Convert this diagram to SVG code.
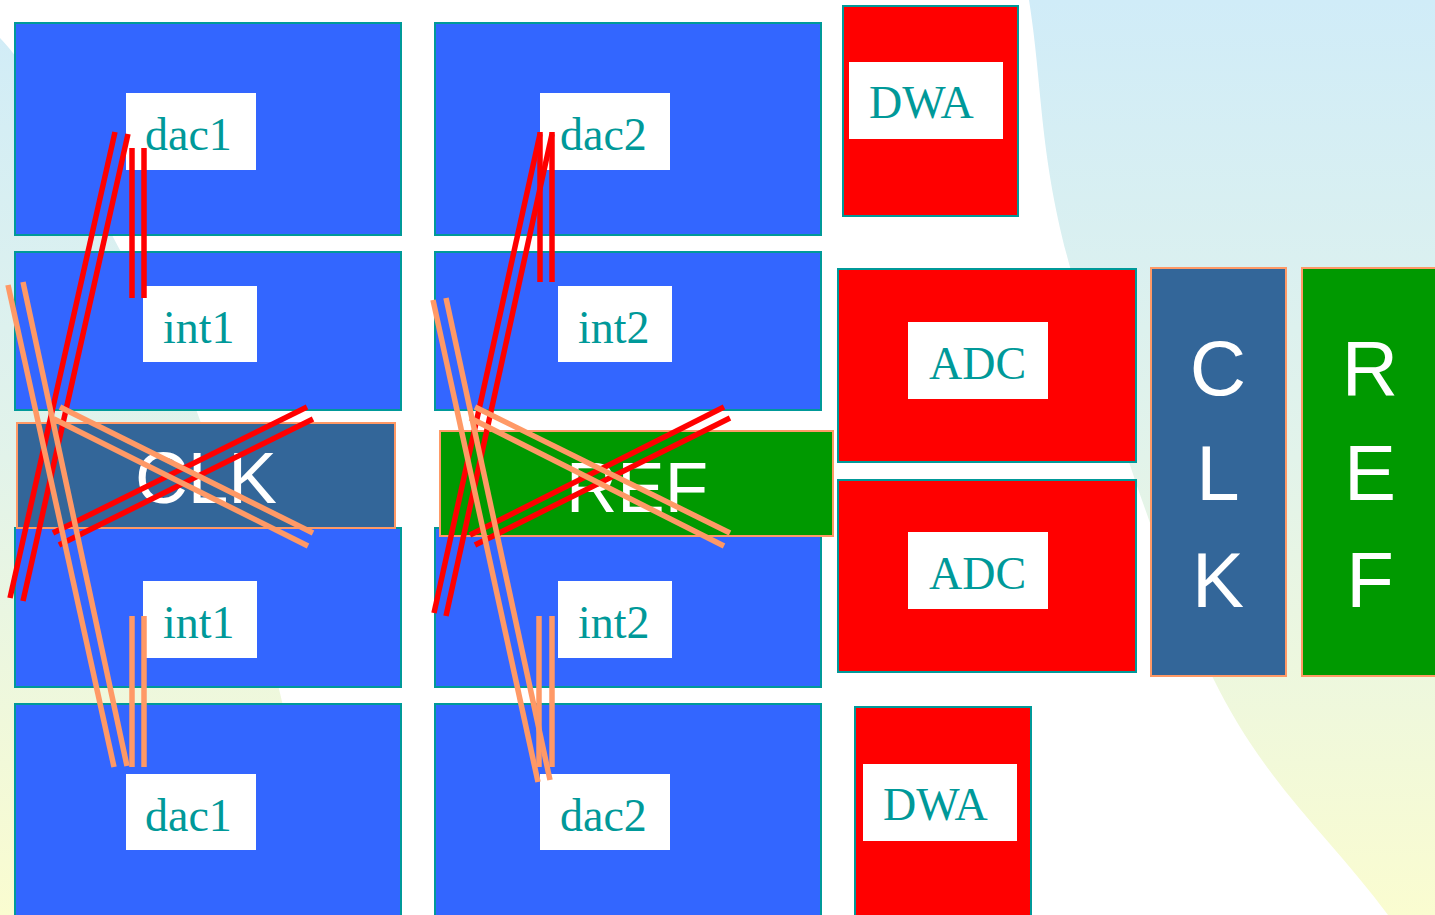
<svg xmlns="http://www.w3.org/2000/svg" width="1435" height="915" viewBox="0 0 1435 915">
  <defs>
    <linearGradient id="bgGrad" x1="0" y1="0" x2="0" y2="1">
      <stop offset="0" stop-color="#D0ECF8"/>
      <stop offset="0.5" stop-color="#E2F3EA"/>
      <stop offset="1" stop-color="#FAFCD0"/>
    </linearGradient>
  </defs>
  <style>
    .blk { fill: #3366FF; stroke: #009999; stroke-width: 2; }
    .red { fill: #FF0000; stroke: #009999; stroke-width: 2; }
    .clk { fill: #336699; stroke: #FF9966; stroke-width: 2; }
    .ref { fill: #009900; stroke: #FF9966; stroke-width: 2; }
    .tag { fill: #FFFFFF; }
    .lbl { font-family: "Liberation Serif", "Times New Roman", serif; font-size: 46px; fill: #009999; }
    .big { font-family: "Liberation Sans", Arial, sans-serif; fill: #FFFFFF; text-anchor: middle; }
    .wr { fill: none; stroke: #FF0000; stroke-width: 5.5; }
    .wo { fill: none; stroke: #FF9966; stroke-width: 5.5; }
  </style>

  <!-- background: soft gradient with a white sweep through the middle -->
  <rect x="0" y="0" width="1435" height="915" fill="url(#bgGrad)"/>
  <path fill="#FFFFFF" d="M0,38 C40,78 80,175 113,237 C146,299 169,336 197,412 C225,488 260,609 280,693 C300,777 305,841 318,915 L1388,915 C1330,836 1266,786 1213,678 C1160,570 1101,380 1070,267 C1039,154 1043,89 1029,0 L0,0 Z"/>

  <!-- left column -->
  <g id="dac1-top">
    <rect class="blk" x="15" y="23" width="386" height="212"/>
    <rect class="tag" x="126" y="93" width="130" height="77"/>
    <text class="lbl" x="145" y="150">dac1</text>
  </g>
  <g id="int1-top">
    <rect class="blk" x="15" y="252" width="386" height="158"/>
    <rect class="tag" x="143" y="286" width="114" height="76"/>
    <text class="lbl" x="163" y="343">int1</text>
  </g>
  <g id="int1-bottom">
    <rect class="blk" x="15" y="528" width="386" height="159"/>
    <rect class="tag" x="143" y="581" width="114" height="77"/>
    <text class="lbl" x="163" y="638">int1</text>
  </g>
  <g id="dac1-bottom">
    <rect class="blk" x="15" y="704" width="386" height="220"/>
    <rect class="tag" x="126" y="774" width="130" height="76"/>
    <text class="lbl" x="145" y="831">dac1</text>
  </g>
  <g id="clk-bar">
    <rect class="clk" x="17" y="423" width="378" height="105"/>
    <text class="big" x="206" y="503" font-size="73">CLK</text>
  </g>

  <!-- middle column -->
  <g id="dac2-top">
    <rect class="blk" x="435" y="23" width="386" height="212"/>
    <rect class="tag" x="540" y="93" width="130" height="77"/>
    <text class="lbl" x="560" y="150">dac2</text>
  </g>
  <g id="int2-top">
    <rect class="blk" x="435" y="252" width="386" height="158"/>
    <rect class="tag" x="558" y="286" width="114" height="76"/>
    <text class="lbl" x="578" y="343">int2</text>
  </g>
  <g id="int2-bottom">
    <rect class="blk" x="435" y="528" width="386" height="159"/>
    <rect class="tag" x="558" y="581" width="114" height="77"/>
    <text class="lbl" x="578" y="638">int2</text>
  </g>
  <g id="dac2-bottom">
    <rect class="blk" x="435" y="704" width="386" height="220"/>
    <rect class="tag" x="540" y="774" width="130" height="76"/>
    <text class="lbl" x="560" y="831">dac2</text>
  </g>
  <g id="ref-bar">
    <rect class="ref" x="440" y="431" width="393" height="105"/>
    <text class="big" x="637" y="512" font-size="71">REF</text>
  </g>

  <!-- right side blocks -->
  <g id="dwa-top">
    <rect class="red" x="843" y="6" width="175" height="210"/>
    <rect class="tag" x="849" y="62" width="154" height="77"/>
    <text class="lbl" x="869" y="118">DWA</text>
  </g>
  <g id="adc-top">
    <rect class="red" x="838" y="269" width="298" height="193"/>
    <rect class="tag" x="908" y="322" width="140" height="77"/>
    <text class="lbl" x="929" y="379">ADC</text>
  </g>
  <g id="adc-bottom">
    <rect class="red" x="838" y="480" width="298" height="192"/>
    <rect class="tag" x="908" y="532" width="140" height="77"/>
    <text class="lbl" x="929" y="589">ADC</text>
  </g>
  <g id="dwa-bottom">
    <rect class="red" x="855" y="707" width="176" height="220"/>
    <rect class="tag" x="863" y="764" width="154" height="77"/>
    <text class="lbl" x="883" y="820">DWA</text>
  </g>
  <g id="clk-column">
    <rect class="clk" x="1151" y="268" width="135" height="408"/>
    <text class="big" x="1218" y="395" font-size="78">C</text>
    <text class="big" x="1218" y="500" font-size="78">L</text>
    <text class="big" x="1218" y="607" font-size="78">K</text>
  </g>
  <g id="ref-column">
    <rect class="ref" x="1302" y="268" width="140" height="408"/>
    <text class="big" x="1370" y="395" font-size="78">R</text>
    <text class="big" x="1370" y="500" font-size="78">E</text>
    <text class="big" x="1370" y="607" font-size="78">F</text>
  </g>

  <!-- wiring -->
  <g id="connectors">
    <!-- left group: red pairs -->
    <line class="wr" x1="115" y1="132" x2="10" y2="598"/>
    <line class="wr" x1="128" y1="134" x2="23" y2="601"/>
    <line class="wr" x1="132" y1="148" x2="132" y2="298"/>
    <line class="wr" x1="144" y1="148" x2="144" y2="298"/>
    <line class="wr" x1="53" y1="533" x2="307" y2="407"/>
    <line class="wr" x1="59" y1="545" x2="313" y2="419"/>
    <!-- left group: orange pairs -->
    <line class="wo" x1="60" y1="407" x2="313" y2="533"/>
    <line class="wo" x1="54" y1="419" x2="308" y2="546"/>
    <line class="wo" x1="8" y1="285" x2="114" y2="767"/>
    <line class="wo" x1="23" y1="282" x2="127" y2="766"/>
    <line class="wo" x1="132" y1="616" x2="132" y2="767"/>
    <line class="wo" x1="144" y1="616" x2="144" y2="767"/>

    <!-- middle group: red pairs -->
    <line class="wr" x1="540" y1="134" x2="434" y2="613"/>
    <line class="wr" x1="552" y1="134" x2="446" y2="616"/>
    <line class="wr" x1="540" y1="132" x2="540" y2="282"/>
    <line class="wr" x1="552" y1="132" x2="552" y2="282"/>
    <line class="wr" x1="470" y1="535" x2="724" y2="407"/>
    <line class="wr" x1="475" y1="545" x2="730" y2="418"/>
    <!-- middle group: orange pairs -->
    <line class="wo" x1="475" y1="407" x2="730" y2="533"/>
    <line class="wo" x1="470" y1="418" x2="724" y2="546"/>
    <line class="wo" x1="433" y1="300" x2="538" y2="782"/>
    <line class="wo" x1="446" y1="298" x2="550" y2="780"/>
    <line class="wo" x1="539" y1="616" x2="539" y2="767"/>
    <line class="wo" x1="552" y1="616" x2="552" y2="767"/>
  </g>
</svg>
